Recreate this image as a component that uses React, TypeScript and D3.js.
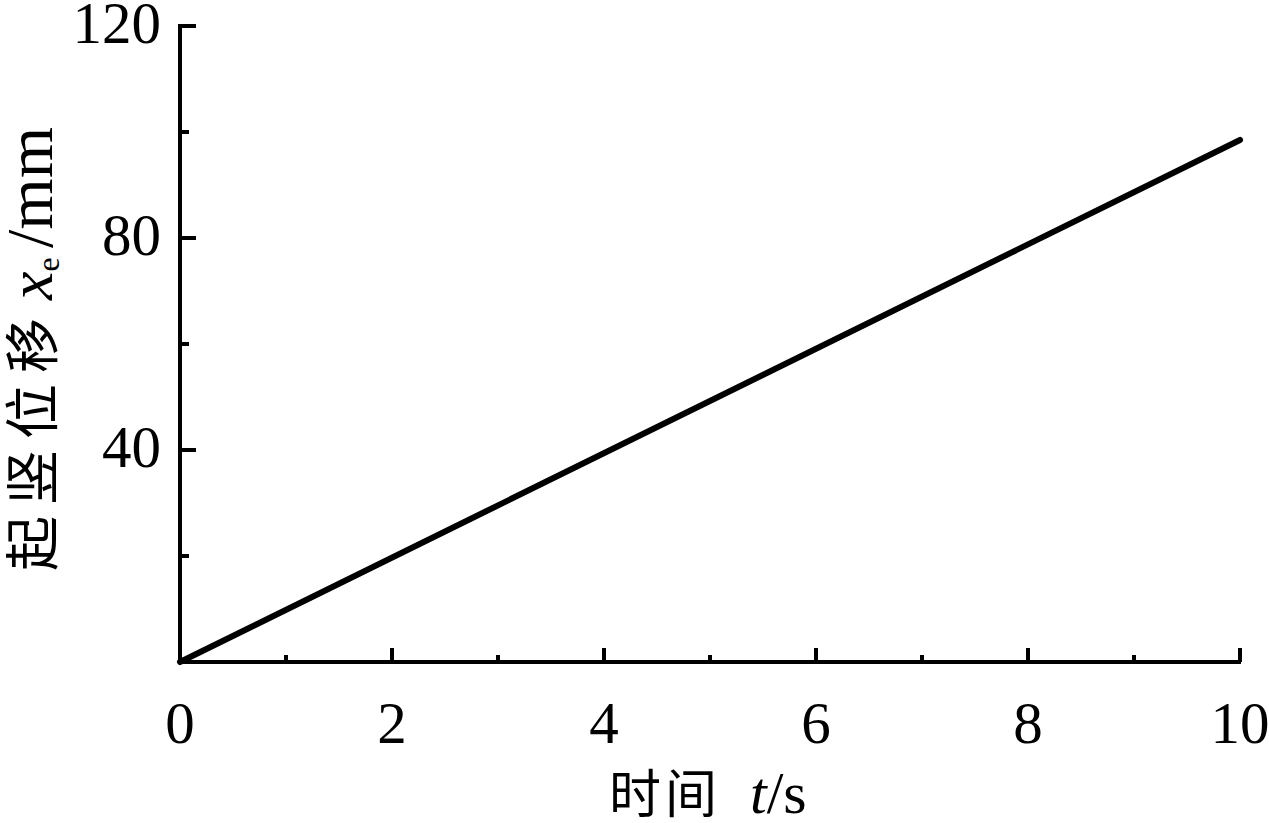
import React from "react";
import * as d3 from "d3";

const times = [0, 10];
const displacement = [0, 98.5];
const xTicks = [0, 2, 4, 6, 8, 10];
const xMinorTicks = [1, 3, 5, 7, 9];
const yTicks = [40, 80, 120];
const yMinorTicks = [20, 60, 100];

const W = 1269;
const H = 823;
const M = { left: 180, right: 1240, top: 26, bottom: 662 };

export default function App() {
  const x = d3.scaleLinear().domain([0, 10]).range([M.left, M.right]);
  const y = d3.scaleLinear().domain([0, 120]).range([M.bottom, M.top]);
  const pts = times.map((t, i) => [t, displacement[i]] as [number, number]);
  const line = d3.line<[number, number]>().x((d) => x(d[0])).y((d) => y(d[1]));
  const num = "'Liberation Serif', 'DejaVu Serif', serif";
  const cjk = "'Noto Sans CJK SC', sans-serif";
  return (
    <svg width={W} height={H} style={{ position: "absolute", left: 0, top: 0, background: "#fff" }}>
      <rect width={W} height={H} fill="#fff" />
      {/* axes */}
      <line x1={x(0)} x2={x(0)} y1={y(120) - 2} y2={y(0) + 2} stroke="#000" strokeWidth={4} />
      <line x1={x(0) - 2} x2={x(10) + 1} y1={y(0)} y2={y(0)} stroke="#000" strokeWidth={4} />
      {/* y ticks */}
      {yTicks.map((v) => (
        <line key={"yt" + v} x1={x(0)} x2={x(0) + 16} y1={y(v)} y2={y(v)} stroke="#000" strokeWidth={4} />
      ))}
      {yMinorTicks.map((v) => (
        <line key={"ym" + v} x1={x(0)} x2={x(0) + 9} y1={y(v)} y2={y(v)} stroke="#000" strokeWidth={4} />
      ))}
      {xTicks.map((v) => (
        <line key={"xt" + v} x1={x(v)} x2={x(v)} y1={y(0)} y2={y(0) - 14} stroke="#000" strokeWidth={4} />
      ))}
      {xMinorTicks.map((v) => (
        <line key={"xm" + v} x1={x(v)} x2={x(v)} y1={y(0)} y2={y(0) - 7} stroke="#000" strokeWidth={4} />
      ))}
      {/* tick labels */}
      {xTicks.map((v) => (
        <text key={"xl" + v} x={x(v)} y={743} textAnchor="middle" fontFamily={num} fontSize={59} fill="#000">
          {v}
        </text>
      ))}
      {yTicks.map((v) => (
        <text key={"yl" + v} x={161} y={y(v)} dy="0.28em" textAnchor="end" fontFamily={num} fontSize={59} fill="#000">
          {v}
        </text>
      ))}
      {/* data line */}
      <path d={line(pts) || ""} fill="none" stroke="#000" strokeWidth={6} strokeLinecap="round" />
      {/* x axis title */}
      <text x={609} y={813} textAnchor="start" fill="#000">
        <tspan fontFamily={cjk} fontSize={52} letterSpacing={4}>时间</tspan>
        <tspan x={750} fontFamily={num} fontSize={60} fontStyle="italic">t</tspan>
        <tspan fontFamily={num} fontSize={60}>/s</tspan>
      </text>
      {/* y axis title */}
      <text transform={`translate(52, 0) rotate(-90)`} textAnchor="start" fill="#000">
        <tspan x={-571} fontFamily={cjk} fontSize={55} letterSpacing={11}>起竖位移</tspan>
        <tspan x={-300} fontFamily={num} fontSize={64} fontStyle="italic">x</tspan>
        <tspan fontFamily={num} fontSize={32} dy={7}>e</tspan>
        <tspan x={-248} fontFamily={num} fontSize={66} dy={-7}>/mm</tspan>
      </text>
    </svg>
  );
}
